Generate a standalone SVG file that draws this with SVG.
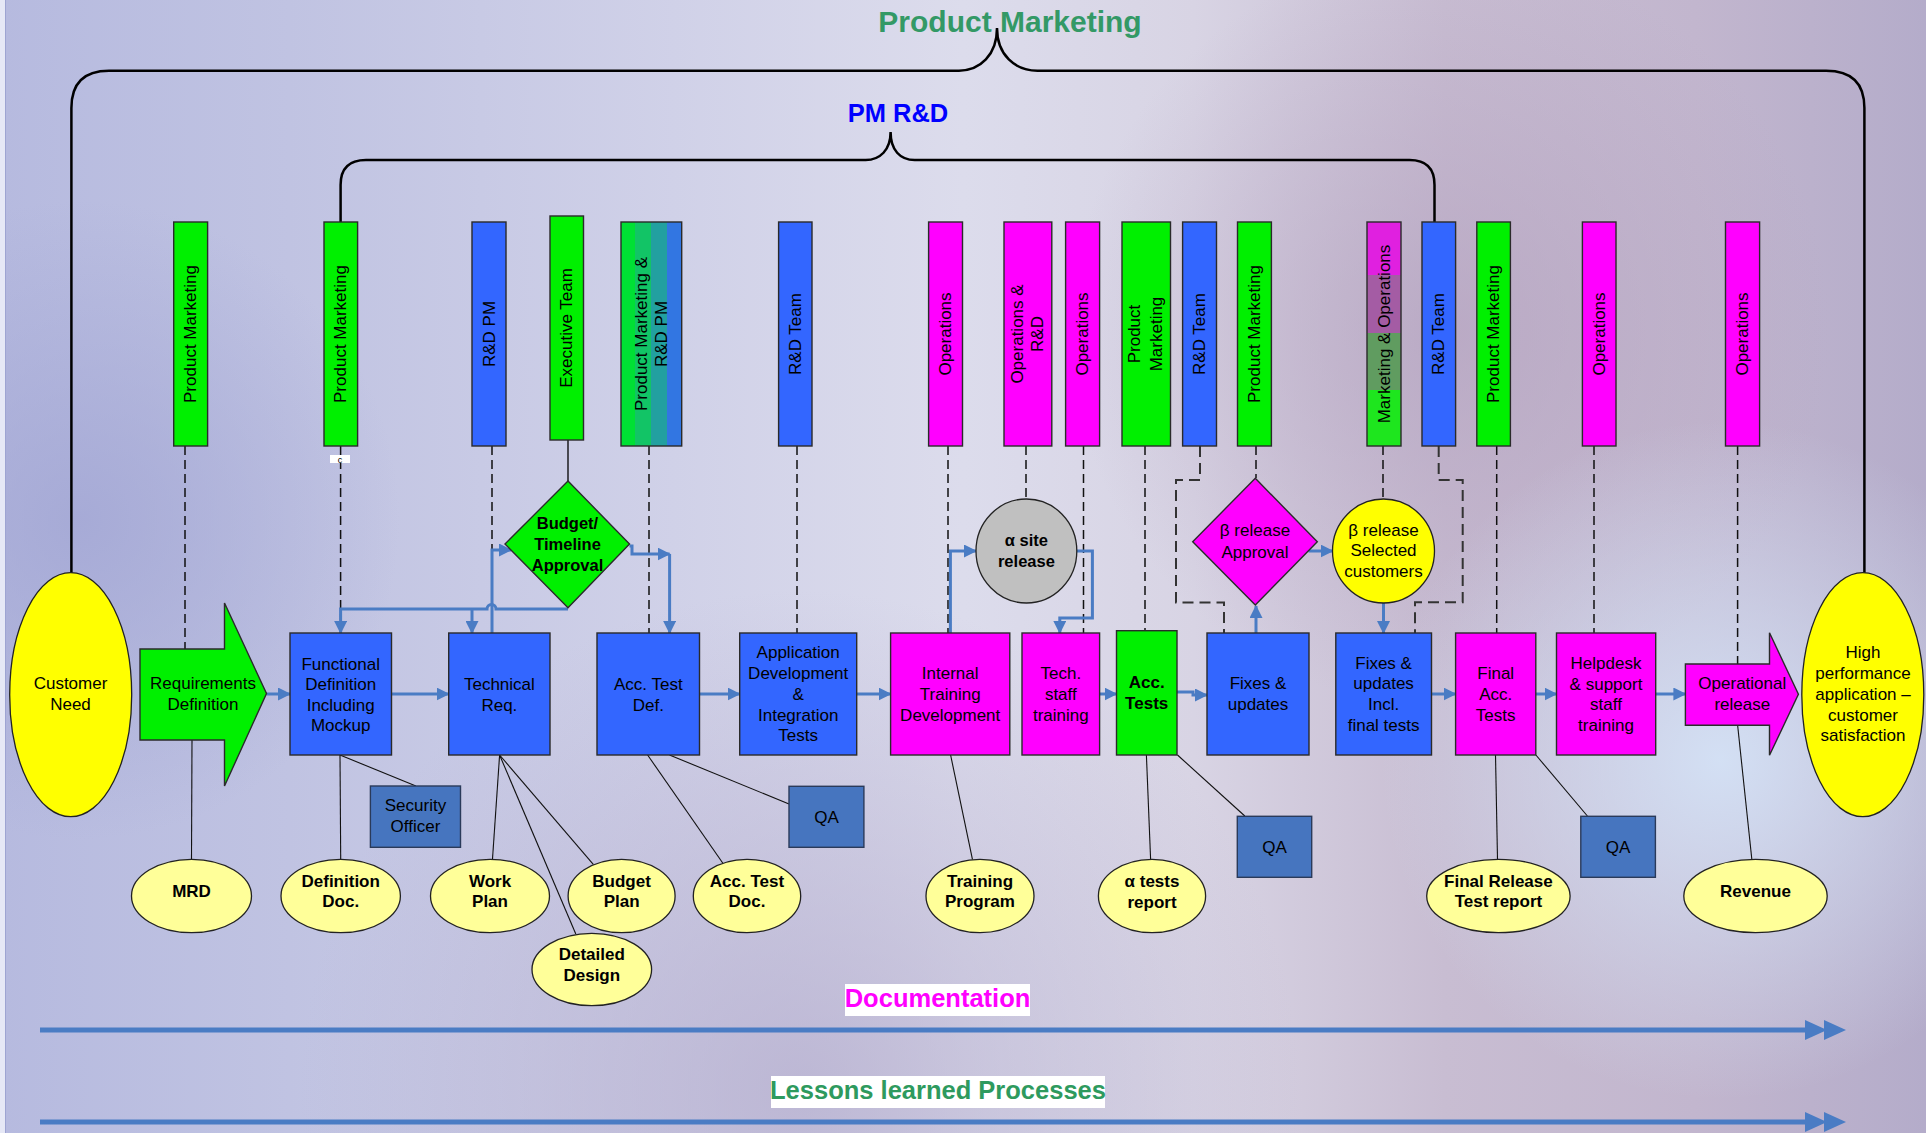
<svg xmlns="http://www.w3.org/2000/svg" width="1926" height="1133" viewBox="0 0 1926 1133">
<defs>
<linearGradient id="bg" x1="0" y1="0" x2="1" y2="0">
<stop offset="0" stop-color="#b6badf"/><stop offset="0.15" stop-color="#c0c3e2"/><stop offset="0.35" stop-color="#d0d1e8"/><stop offset="0.5" stop-color="#dcdcec"/><stop offset="0.62" stop-color="#d8d4e4"/><stop offset="0.75" stop-color="#c8bdd2"/><stop offset="0.88" stop-color="#c2b6ce"/><stop offset="1" stop-color="#b4acca"/>
</linearGradient>
<radialGradient id="rb" cx="1720" cy="760" r="340" gradientUnits="userSpaceOnUse"><stop offset="0" stop-color="#d4e2f6" stop-opacity="0.95"/><stop offset="1" stop-color="#d4e2f6" stop-opacity="0"/></radialGradient>
<radialGradient id="rm" cx="1450" cy="330" r="380" gradientUnits="userSpaceOnUse"><stop offset="0" stop-color="#b4a2bf" stop-opacity="0.7"/><stop offset="1" stop-color="#b4a2bf" stop-opacity="0"/></radialGradient>
<radialGradient id="rl" cx="80" cy="520" r="320" gradientUnits="userSpaceOnUse"><stop offset="0" stop-color="#a2a6d4" stop-opacity="0.8"/><stop offset="1" stop-color="#a2a6d4" stop-opacity="0"/></radialGradient>
<radialGradient id="rc" cx="800" cy="1090" r="500" gradientUnits="userSpaceOnUse"><stop offset="0" stop-color="#b2aacb" stop-opacity="0.7"/><stop offset="1" stop-color="#b2aacb" stop-opacity="0"/></radialGradient>
<linearGradient id="g5" x1="0" y1="0" x2="1" y2="0">
<stop offset="0" stop-color="#00e034"/><stop offset="0.23" stop-color="#00e034"/><stop offset="0.23" stop-color="#12c466"/><stop offset="0.49" stop-color="#12c466"/><stop offset="0.49" stop-color="#22a0a0"/><stop offset="0.75" stop-color="#22a0a0"/><stop offset="0.75" stop-color="#3276e2"/><stop offset="1" stop-color="#3276e2"/>
</linearGradient>
<linearGradient id="g13" x1="0" y1="0" x2="0" y2="1">
<stop offset="0" stop-color="#e020e0"/><stop offset="0.237" stop-color="#e020e0"/><stop offset="0.237" stop-color="#a45ca4"/><stop offset="0.496" stop-color="#a45ca4"/><stop offset="0.496" stop-color="#609c60"/><stop offset="0.75" stop-color="#609c60"/><stop offset="0.75" stop-color="#1ee61e"/><stop offset="1" stop-color="#1ee61e"/>
</linearGradient>
<marker id="ah" markerUnits="userSpaceOnUse" markerWidth="13" markerHeight="13" viewBox="0 0 13 13" refX="12" refY="6.5" orient="auto"><path d="M0,0 L13,6.5 L0,13 z" fill="#4a7cc4"/></marker>
<style>
.t{font-family:"Liberation Sans",Arial,sans-serif;font-size:17px;fill:#000;text-anchor:middle}
.b{font-weight:bold}
.v{dominant-baseline:central}
.bx{stroke:#2a2a2a;stroke-width:1.4}
.gr{fill:#00f000}
.bl{fill:#3366ff}
.mg{fill:#ff00ff}
.sb{fill:#4675bf;stroke:#2a3a5a;stroke-width:1.4}
.ye{fill:#ffff00;stroke:#222;stroke-width:1.3}
.ly{fill:#ffff99;stroke:#222;stroke-width:1.3}
.con{fill:none;stroke:#4a7cc4;stroke-width:3;marker-end:url(#ah)}
.conn{fill:none;stroke:#4a7cc4;stroke-width:3}
.dash{fill:none;stroke:#111;stroke-width:1.5;stroke-dasharray:9 5}
.dash2{fill:none;stroke:#333;stroke-width:2;stroke-dasharray:11 6}
.thin{fill:none;stroke:#111;stroke-width:1.1}
.brk{fill:none;stroke:#000;stroke-width:2.5}
</style>
</defs>
<rect width="1926" height="1133" fill="url(#bg)"/>
<rect width="1926" height="1133" fill="url(#rl)"/>
<rect width="1926" height="1133" fill="url(#rm)"/>
<rect width="1926" height="1133" fill="url(#rb)"/>
<rect width="1926" height="1133" fill="url(#rc)"/>
<rect x="0" y="0" width="5" height="1133" fill="#e6e8f6"/>
<line x1="5.5" y1="0" x2="5.5" y2="1133" stroke="#9ea4d2" stroke-width="1"/>

<g id="titles">
<text class="t b" x="1010" y="32" style="font-size:30px;fill:#339966">Product Marketing</text>
<text class="t b" x="898" y="122" style="font-size:25.5px;fill:#0000ff">PM R&amp;D</text>
</g>

<g id="connectors">
<path class="brk" d="M71.4,572.7 V108 Q71.4,70.7 109,70.7 H959 C980,70.7 997,55 997,28 C997,55 1015,70.7 1037.5,70.7 H1826 Q1864.4,70.7 1864.4,108 V572.7"/>
<path class="brk" d="M340.6,222 V185 Q340.6,160 366,160 H865.6 C880,160 890.6,150 890.6,132 C890.6,150 900,160 914.7,160 H1409.5 Q1434.5,160 1434.5,185 V222"/>

<path class="dash" d="M185,446 V649"/>
<path class="dash" d="M340.6,446 V620"/>
<path class="dash" d="M492,446 V550"/>
<path class="thin" style="stroke-width:1.4" d="M568,440 V481"/>
<path class="dash" d="M649,446 V633"/>
<path class="dash" d="M797,446 V633"/>
<path class="dash" d="M948,446 V633"/>
<path class="dash" d="M1026,446 V499"/>
<path class="dash" d="M1083.5,446 V633"/>
<path class="dash" d="M1145,446 V631"/>
<path class="dash2" d="M1200,446 V480 H1176 V602.5 H1224 V633"/>
<path class="dash" d="M1256,446 V478"/>
<path class="dash" d="M1383,446 V499"/>
<path class="dash2" d="M1438.7,446 V480 H1462.7 V602.3 H1415 V633"/>
<path class="dash" d="M1496.7,446 V633"/>
<path class="dash" d="M1594,446 V633"/>
<path class="dash" d="M1737.6,446 V664"/>

<path class="con" d="M266.5,694 H290"/>
<path class="con" d="M391.5,694 H448.7"/>
<path class="con" d="M492,633 V550 H511"/>
<path class="con" d="M568,609 H496 A4.5,4.5 0 0 0 487,609 H340.6 V633"/>
<path class="con" d="M472,609 V633"/>
<path class="con" d="M629.5,546 H632 V554 H669.6"/>
<path class="con" d="M669.6,554 V633"/>
<path class="con" d="M699.5,694 H739.7"/>
<path class="con" d="M856.7,694 H890.6"/>
<path class="con" d="M950.4,633 V551 H976"/>
<path class="con" d="M1076.8,551 H1092.4 V618 H1059.8 V633"/>
<path class="con" d="M1099.6,694 H1116.5"/>
<path class="con" d="M1177,692 H1193 V695 H1207"/>
<path class="con" d="M1256,633 V606"/>
<path class="con" d="M1308.5,551 H1332.7"/>
<path class="con" d="M1383.5,602.7 V633"/>
<path class="con" d="M1431.5,694 H1455.6"/>
<path class="con" d="M1535.8,694 H1556.5"/>
<path class="con" d="M1655.7,694 H1685.4"/>

<path class="thin" d="M192,740 L191.5,859"/>
<path class="thin" d="M340,755 L340.7,859"/>
<path class="thin" d="M340,755 L415.9,786"/>
<path class="thin" d="M499.6,755 L492.5,859"/>
<path class="thin" d="M499.6,755 L575.8,934"/>
<path class="thin" d="M499.6,755 L593.5,864.7"/>
<path class="thin" d="M647.6,755 L722.9,863.3"/>
<path class="thin" d="M669.5,755 L789,804"/>
<path class="thin" d="M950.6,755 L972.5,859.7"/>
<path class="thin" d="M1146.4,755 L1150.6,859"/>
<path class="thin" d="M1177.5,755 L1244.8,816"/>
<path class="thin" d="M1495.5,755 L1497.5,859"/>
<path class="thin" d="M1535.9,755 L1587.4,816"/>
<path class="thin" d="M1737.6,725 L1751.8,859"/>

<path d="M40,1030 H1812" stroke="#4a7cc4" stroke-width="5" fill="none"/>
<polygon points="1805,1020 1827,1030 1805,1040" fill="#4a7cc4"/>
<polygon points="1824,1020 1846,1030 1824,1040" fill="#4a7cc4"/>
<path d="M40,1122 H1812" stroke="#4a7cc4" stroke-width="5" fill="none"/>
<polygon points="1805,1112 1827,1122 1805,1132" fill="#4a7cc4"/>
<polygon points="1824,1112 1846,1122 1824,1132" fill="#4a7cc4"/>
</g>

<g id="roles">
<g id="r1"><rect class="bx gr" x="173.7" y="222" width="33.9" height="224"/><text class="t v" transform="translate(190.6,334) rotate(-90)">Product Marketing</text></g>
<g id="r2"><rect class="bx gr" x="324" y="222" width="33.6" height="224"/><text class="t v" transform="translate(340.8,334) rotate(-90)">Product Marketing</text></g>
<g id="r3"><rect class="bx bl" x="472" y="222" width="34" height="224"/><text class="t v" transform="translate(489,334) rotate(-90)">R&amp;D PM</text></g>
<g id="r4"><rect class="bx gr" x="550" y="216" width="33.5" height="224"/><text class="t v" transform="translate(566.75,328) rotate(-90)">Executive Team</text></g>
<g id="r5"><rect class="bx" x="621" y="222" width="60.7" height="224" fill="url(#g5)"/><text class="t v" transform="translate(650.65,334) rotate(-90)"><tspan x="0" y="-10">Product Marketing &amp;</tspan><tspan x="0" y="10">R&amp;D PM</tspan></text></g>
<g id="r6"><rect class="bx bl" x="778.6" y="222" width="33.4" height="224"/><text class="t v" transform="translate(795.3,334) rotate(-90)">R&amp;D Team</text></g>
<g id="r7"><rect class="bx mg" x="928.6" y="222" width="33.9" height="224"/><text class="t v" transform="translate(945.55,334) rotate(-90)">Operations</text></g>
<g id="r8"><rect class="bx mg" x="1004" y="222" width="47.8" height="224"/><text class="t v" transform="translate(1026.5,334) rotate(-90)"><tspan x="0" y="-10">Operations &amp;</tspan><tspan x="0" y="10">R&amp;D</tspan></text></g>
<g id="r9"><rect class="bx mg" x="1065.6" y="222" width="34" height="224"/><text class="t v" transform="translate(1082.6,334) rotate(-90)">Operations</text></g>
<g id="r10"><rect class="bx gr" x="1122" y="222" width="48.5" height="224"/><text class="t v" transform="translate(1145.1,334) rotate(-90)"><tspan x="0" y="-10.7">Product</tspan><tspan x="0" y="10.7">Marketing</tspan></text></g>
<g id="r11"><rect class="bx bl" x="1182.6" y="222" width="33.9" height="224"/><text class="t v" transform="translate(1199.55,334) rotate(-90)">R&amp;D Team</text></g>
<g id="r12"><rect class="bx gr" x="1237.5" y="222" width="33.9" height="224"/><text class="t v" transform="translate(1254.45,334) rotate(-90)">Product Marketing</text></g>
<g id="r13"><rect class="bx" x="1367" y="222" width="34" height="224" fill="url(#g13)"/><text class="t v" transform="translate(1384,334) rotate(-90)">Marketing &amp; Operations</text></g>
<g id="r14"><rect class="bx bl" x="1422" y="222" width="33.6" height="224"/><text class="t v" transform="translate(1438.8,334) rotate(-90)">R&amp;D Team</text></g>
<g id="r15"><rect class="bx gr" x="1476.8" y="222" width="33.6" height="224"/><text class="t v" transform="translate(1493.6,334) rotate(-90)">Product Marketing</text></g>
<g id="r16"><rect class="bx mg" x="1582.4" y="222" width="33.6" height="224"/><text class="t v" transform="translate(1599.2,334) rotate(-90)">Operations</text></g>
<g id="r17"><rect class="bx mg" x="1725.5" y="222" width="34.1" height="224"/><text class="t v" transform="translate(1742.55,334) rotate(-90)">Operations</text></g>
</g>

<g id="mark"><rect x="330" y="455" width="20" height="8" fill="#ffffff"/><text class="t" x="340" y="462.5" style="font-size:9px">c</text></g>

<g id="customer-need"><ellipse class="ye" cx="70.7" cy="694.7" rx="61" ry="122"/><text class="t"><tspan x="70.5" y="689">Customer</tspan><tspan x="70.5" y="710">Need</tspan></text></g>
<g id="req-def"><polygon class="bx gr" points="140,649 224.5,649 224.5,603 266.5,693.5 224.5,786 224.5,740 140,740"/><text class="t"><tspan x="203" y="689">Requirements</tspan><tspan x="203" y="710">Definition</tspan></text></g>
<g id="func-def"><rect class="bx bl" x="290" y="633" width="101.5" height="122"/><text class="t"><tspan x="340.7" y="669.5">Functional</tspan><tspan x="340.7" y="690">Definition</tspan><tspan x="340.7" y="710.5">Including</tspan><tspan x="340.7" y="731">Mockup</tspan></text></g>
<g id="tech-req"><rect class="bx bl" x="448.7" y="633" width="101.3" height="122"/><text class="t"><tspan x="499.4" y="689.5">Technical</tspan><tspan x="499.4" y="710.5">Req.</tspan></text></g>
<g id="budget"><polygon class="bx gr" points="568,481 629.5,544 568,607.7 505,544"/><text class="t b" style="font-size:16.5px"><tspan x="567.5" y="528.5">Budget/</tspan><tspan x="567.5" y="550">Timeline</tspan><tspan x="567.5" y="571">Approval</tspan></text></g>
<g id="acc-test-def"><rect class="bx bl" x="597" y="633" width="102.5" height="122"/><text class="t"><tspan x="648.3" y="689.5">Acc. Test</tspan><tspan x="648.3" y="710.5">Def.</tspan></text></g>
<g id="app-dev"><rect class="bx bl" x="739.7" y="633" width="117" height="122"/><text class="t"><tspan x="798.2" y="658">Application</tspan><tspan x="798.2" y="679">Development</tspan><tspan x="798.2" y="700">&amp;</tspan><tspan x="798.2" y="720.5">Integration</tspan><tspan x="798.2" y="741">Tests</tspan></text></g>
<g id="int-training"><rect class="bx mg" x="890.6" y="633" width="119.2" height="122"/><text class="t"><tspan x="950.2" y="679">Internal</tspan><tspan x="950.2" y="700">Training</tspan><tspan x="950.2" y="720.5">Development</tspan></text></g>
<g id="alpha-site"><ellipse cx="1026.4" cy="551" rx="50.4" ry="52" fill="#c0c0c0" stroke="#222" stroke-width="1.3"/><text class="t b" style="font-size:16.5px"><tspan x="1026.4" y="546">α site</tspan><tspan x="1026.4" y="566.7">release</tspan></text></g>
<g id="tech-staff"><rect class="bx mg" x="1022" y="633" width="77.6" height="122"/><text class="t"><tspan x="1060.8" y="679">Tech.</tspan><tspan x="1060.8" y="700">staff</tspan><tspan x="1060.8" y="720.5">training</tspan></text></g>
<g id="acc-tests"><rect class="bx gr" x="1116.5" y="630.7" width="60.5" height="124.3"/><text class="t b"><tspan x="1146.7" y="688">Acc.</tspan><tspan x="1146.7" y="709">Tests</tspan></text></g>
<g id="fixes"><rect class="bx bl" x="1207" y="633" width="102" height="122"/><text class="t"><tspan x="1258" y="689">Fixes &amp;</tspan><tspan x="1258" y="710">updates</tspan></text></g>
<g id="beta-approval"><polygon class="bx mg" points="1255.3,478.3 1317.3,541.7 1255.3,605 1192.7,541.7"/><text class="t"><tspan x="1255" y="536">β release</tspan><tspan x="1255" y="557.5">Approval</tspan></text></g>
<g id="beta-selected"><ellipse class="ye" cx="1383.5" cy="551" rx="51" ry="52"/><text class="t"><tspan x="1383.5" y="535.5">β release</tspan><tspan x="1383.5" y="556">Selected</tspan><tspan x="1383.5" y="576.5">customers</tspan></text></g>
<g id="fixes-final"><rect class="bx bl" x="1335.8" y="633" width="95.7" height="122"/><text class="t"><tspan x="1383.6" y="668.5">Fixes &amp;</tspan><tspan x="1383.6" y="689">updates</tspan><tspan x="1383.6" y="710">Incl.</tspan><tspan x="1383.6" y="731">final tests</tspan></text></g>
<g id="final-acc"><rect class="bx mg" x="1455.6" y="633" width="80.2" height="122"/><text class="t"><tspan x="1495.7" y="679">Final</tspan><tspan x="1495.7" y="700">Acc.</tspan><tspan x="1495.7" y="720.5">Tests</tspan></text></g>
<g id="helpdesk"><rect class="bx mg" x="1556.5" y="633" width="99.2" height="122"/><text class="t"><tspan x="1606" y="668.5">Helpdesk</tspan><tspan x="1606" y="689.5">&amp; support</tspan><tspan x="1606" y="710">staff</tspan><tspan x="1606" y="731">training</tspan></text></g>
<g id="op-release"><polygon class="bx mg" points="1685.4,664 1769.5,664 1769.5,632.7 1798.4,694.3 1769.5,755.3 1769.5,725.3 1685.4,725.3"/><text class="t"><tspan x="1742.3" y="689">Operational</tspan><tspan x="1742.3" y="710">release</tspan></text></g>
<g id="high-perf"><ellipse class="ye" cx="1862.8" cy="694.7" rx="61" ry="122"/><text class="t"><tspan x="1863" y="658">High</tspan><tspan x="1863" y="679">performance</tspan><tspan x="1863" y="700">application –</tspan><tspan x="1863" y="720.5">customer</tspan><tspan x="1863" y="741">satisfaction</tspan></text></g>

<g id="security"><rect class="sb" x="370.4" y="786" width="90.1" height="61.3"/><text class="t"><tspan x="415.5" y="811">Security</tspan><tspan x="415.5" y="832">Officer</tspan></text></g>
<g id="qa1"><rect class="sb" x="789" y="786.3" width="74.9" height="61"/><text class="t" x="826.5" y="823">QA</text></g>
<g id="qa2"><rect class="sb" x="1237.3" y="816.3" width="74.4" height="61"/><text class="t" x="1274.5" y="853">QA</text></g>
<g id="qa3"><rect class="sb" x="1580.8" y="816.3" width="74.6" height="61"/><text class="t" x="1618" y="853">QA</text></g>

<g id="mrd"><ellipse class="ly" cx="191.5" cy="896" rx="60" ry="36.7"/><text class="t b" x="191.5" y="897">MRD</text></g>
<g id="def-doc"><ellipse class="ly" cx="340.7" cy="896" rx="59.7" ry="36.7"/><text class="t b"><tspan x="340.7" y="887">Definition</tspan><tspan x="340.7" y="907">Doc.</tspan></text></g>
<g id="work-plan"><ellipse class="ly" cx="490" cy="896" rx="59.5" ry="36.7"/><text class="t b"><tspan x="490" y="887">Work</tspan><tspan x="490" y="907">Plan</tspan></text></g>
<g id="budget-plan"><ellipse class="ly" cx="621.6" cy="896" rx="53.5" ry="36.7"/><text class="t b"><tspan x="621.6" y="887">Budget</tspan><tspan x="621.6" y="907">Plan</tspan></text></g>
<g id="detailed-design"><ellipse class="ly" cx="591.8" cy="969.5" rx="59.8" ry="36.2"/><text class="t b"><tspan x="591.8" y="960">Detailed</tspan><tspan x="591.8" y="981">Design</tspan></text></g>
<g id="acc-test-doc"><ellipse class="ly" cx="747" cy="896" rx="53.7" ry="36.7"/><text class="t b"><tspan x="747" y="887">Acc. Test</tspan><tspan x="747" y="907">Doc.</tspan></text></g>
<g id="training-program"><ellipse class="ly" cx="980" cy="896" rx="54" ry="36.7"/><text class="t b"><tspan x="980" y="887">Training</tspan><tspan x="980" y="907">Program</tspan></text></g>
<g id="alpha-report"><ellipse class="ly" cx="1152" cy="896" rx="53.6" ry="36.7"/><text class="t b"><tspan x="1152" y="887">α tests</tspan><tspan x="1152" y="907.5">report</tspan></text></g>
<g id="final-report"><ellipse class="ly" cx="1498.4" cy="896" rx="71.7" ry="36.7"/><text class="t b"><tspan x="1498.4" y="887">Final Release</tspan><tspan x="1498.4" y="907">Test report</tspan></text></g>
<g id="revenue"><ellipse class="ly" cx="1755.5" cy="896" rx="71.7" ry="36.7"/><text class="t b" x="1755.5" y="897">Revenue</text></g>

<g id="documentation"><rect x="845" y="984" width="185" height="32" fill="#ffffff"/><text class="t b" x="937.5" y="1007" style="font-size:25.5px;fill:#ff00ff">Documentation</text></g>
<g id="lessons"><rect x="771" y="1076" width="334" height="32" fill="#ffffff"/><text class="t b" x="938" y="1099" style="font-size:25.5px;fill:#2e9a5e">Lessons learned Processes</text></g>
</svg>
